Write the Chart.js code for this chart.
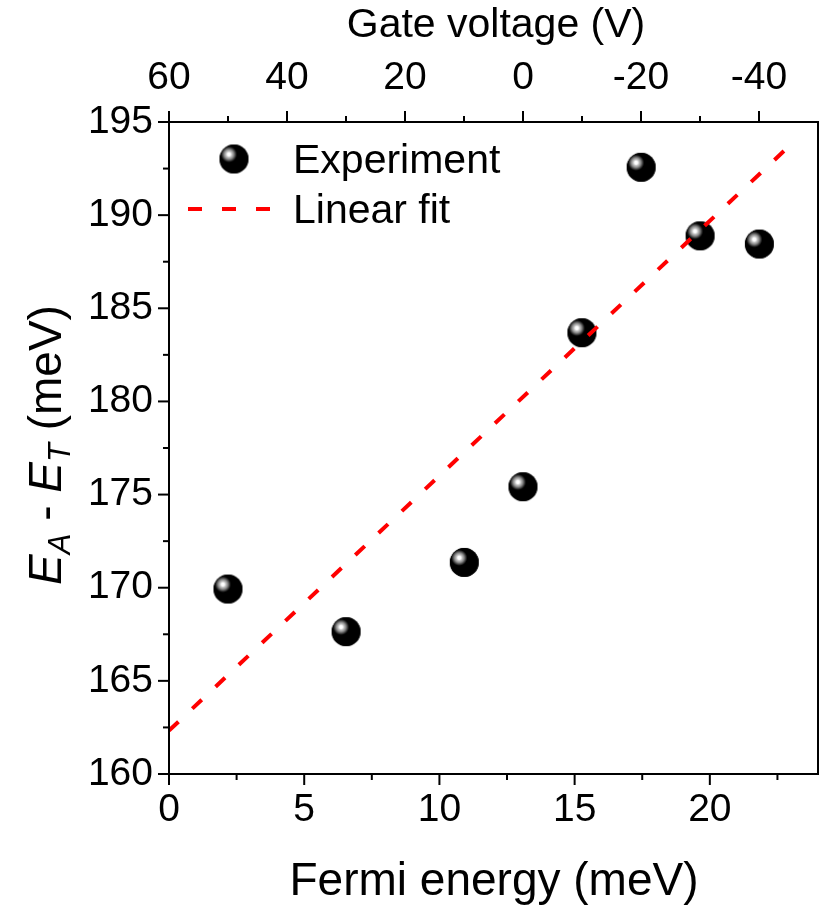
<!DOCTYPE html>
<html>
<head>
<meta charset="utf-8">
<script src="https://cdn.jsdelivr.net/npm/chart.js@4.4.0/dist/chart.umd.min.js"></script>
<style>
  body { margin: 0; background: #fff; }
  #wrap { width: 823px; height: 906px; }
</style>
</head>
<body>
<div id="wrap"><canvas id="chart" width="823" height="906"></canvas></div>
<script>
// data
const fermiEnergy = [2.18, 6.55, 10.92, 13.09, 15.27, 17.46, 19.64, 21.83];
const energyDiff = [169.93, 167.64, 171.36, 175.42, 183.69, 192.57, 188.89, 188.45];
const fitX = [0, 23];
const fitY = [162.33, 193.8];

const bottomTicks = [0, 5, 10, 15, 20];
const bottomMinor = [2.5, 7.5, 12.5, 17.5, 22.5];
const topTicks = [60, 40, 20, 0, -20, -40];
const topMinor = [50, 30, 10, -10, -30];
const leftTicks = [160, 165, 170, 175, 180, 185, 190, 195];
const leftMinor = [162.5, 167.5, 172.5, 177.5, 182.5, 187.5, 192.5];

const FONT = '"Liberation Sans", Arial, sans-serif';

// shiny black ball used as marker
function makeBall(r) {
  const c = document.createElement('canvas');
  const s = Math.ceil(r * 2 + 4);
  c.width = s; c.height = s;
  const g = c.getContext('2d');
  const cx = s / 2, cy = s / 2;
  g.beginPath();
  g.arc(cx, cy, r, 0, Math.PI * 2);
  g.fillStyle = '#000';
  g.fill();
  const hx = cx - r * 0.35, hy = cy - r * 0.32;
  const grad = g.createRadialGradient(hx, hy, 0, hx, hy, r * 0.55);
  grad.addColorStop(0, '#fff');
  grad.addColorStop(0.2, '#fff');
  grad.addColorStop(0.35, '#c8c8c8');
  grad.addColorStop(0.6, '#8a8a8a');
  grad.addColorStop(0.85, '#333');
  grad.addColorStop(1, '#000');
  g.beginPath();
  g.arc(cx, cy, r, 0, Math.PI * 2);
  g.fillStyle = grad;
  g.fill();
  return c;
}
const ball = makeBall(14.5);

const setTicks = (list) => (scale) => { scale.ticks = list.map(v => ({ value: v })); };

const decorations = {
  id: 'decorations',
  afterDraw(chart) {
    const { ctx, chartArea: a, scales } = chart;
    ctx.save();
    ctx.strokeStyle = '#000';
    ctx.lineWidth = 2;
    ctx.strokeRect(a.left, a.top, a.right - a.left, a.bottom - a.top);

    const line = (x1, y1, x2, y2) => {
      ctx.beginPath(); ctx.moveTo(x1, y1); ctx.lineTo(x2, y2); ctx.stroke();
    };
    const MAJ = 11, MIN = 6;
    bottomTicks.forEach(v => { const x = scales.x.getPixelForValue(v); line(x, a.bottom, x, a.bottom + MAJ); });
    bottomMinor.forEach(v => { const x = scales.x.getPixelForValue(v); line(x, a.bottom, x, a.bottom + MIN); });
    topTicks.forEach(v => { const x = scales.x2.getPixelForValue(v); line(x, a.top, x, a.top - MAJ); });
    topMinor.forEach(v => { const x = scales.x2.getPixelForValue(v); line(x, a.top, x, a.top - MIN); });
    leftTicks.forEach(v => { const y = scales.y.getPixelForValue(v); line(a.left, y, a.left - MAJ, y); });
    leftMinor.forEach(v => { const y = scales.y.getPixelForValue(v); line(a.left, y, a.left - MIN, y); });

    // axis titles
    ctx.fillStyle = '#000';
    ctx.textAlign = 'center';
    ctx.textBaseline = 'alphabetic';
    ctx.font = '46px ' + FONT;
    ctx.fillText('Fermi energy (meV)', 494, 895);
    ctx.font = '41px ' + FONT;
    ctx.fillText('Gate voltage (V)', 496, 37);

    // rotated y title: E_A - E_T (meV)
    const parts = [
      { t: 'E', f: 'italic 46px ' + FONT, dy: 0 },
      { t: 'A', f: 'italic 31px ' + FONT, dy: 9 },
      { t: ' - ', f: '46px ' + FONT, dy: 0 },
      { t: 'E', f: 'italic 46px ' + FONT, dy: 0 },
      { t: 'T', f: 'italic 31px ' + FONT, dy: 9 },
      { t: ' (meV)', f: '46px ' + FONT, dy: 0 }
    ];
    let total = 0;
    parts.forEach(p => { ctx.font = p.f; p.w = ctx.measureText(p.t).width; total += p.w; });
    ctx.translate(61, 445);
    ctx.rotate(-Math.PI / 2);
    ctx.textAlign = 'left';
    let px = -total / 2;
    parts.forEach(p => { ctx.font = p.f; ctx.fillText(p.t, px, p.dy); px += p.w; });
    ctx.setTransform(1, 0, 0, 1, 0, 0);

    // legend
    ctx.drawImage(ball, 234 - ball.width / 2, 159 - ball.height / 2);
    ctx.strokeStyle = '#ff0000';
    ctx.lineWidth = 4;
    ctx.setLineDash([14, 20]);
    line(188, 209, 272, 209);
    ctx.setLineDash([]);
    ctx.fillStyle = '#000';
    ctx.font = '41px ' + FONT;
    ctx.textAlign = 'left';
    ctx.textBaseline = 'alphabetic';
    ctx.fillText('Experiment', 293, 173);
    ctx.fillText('Linear fit', 293, 223);
    ctx.restore();
  }
};

const tickFont = { family: FONT, size: 39 };

new Chart(document.getElementById('chart'), {
  type: 'scatter',
  data: {
    datasets: [
      {
        label: 'Linear fit',
        type: 'line',
        data: fitX.map((x, i) => ({ x, y: fitY[i] })),
        borderColor: '#ff0000',
        borderWidth: 4,
        borderDash: [13, 19],
        pointRadius: 0,
        fill: false,
        xAxisID: 'x',
        yAxisID: 'y',
        order: 0
      },
      {
        label: 'Experiment',
        data: fermiEnergy.map((x, i) => ({ x, y: energyDiff[i] })),
        pointStyle: ball,
        xAxisID: 'x',
        yAxisID: 'y',
        order: 1
      }
    ]
  },
  options: {
    responsive: false,
    animation: false,
    devicePixelRatio: 1,
    layout: { padding: { left: 0, right: 3, top: 0, bottom: 0 } },
    plugins: { legend: { display: false }, tooltip: { enabled: false } },
    scales: {
      x: {
        type: 'linear', position: 'bottom', min: 0, max: 24,
        grid: { display: false, drawTicks: false },
        border: { display: false },
        ticks: { font: tickFont, color: '#000', padding: 13, maxRotation: 0 },
        afterBuildTicks: setTicks(bottomTicks),
        afterFit: (s) => { s.height = 132; }
      },
      x2: {
        type: 'linear', position: 'top', min: -50, max: 60, reverse: true,
        grid: { display: false, drawTicks: false },
        border: { display: false },
        ticks: { font: tickFont, color: '#000', padding: 20, maxRotation: 0, callback: v => String(v) },
        afterBuildTicks: setTicks(topTicks),
        afterFit: (s) => { s.height = 122; }
      },
      y: {
        type: 'linear', position: 'left', min: 160, max: 195,
        grid: { display: false, drawTicks: false },
        border: { display: false },
        ticks: { font: tickFont, color: '#000', padding: 16 },
        afterBuildTicks: setTicks(leftTicks),
        afterFit: (s) => { s.width = 169; }
      }
    }
  },
  plugins: [decorations]
});
</script>
</body>
</html>
